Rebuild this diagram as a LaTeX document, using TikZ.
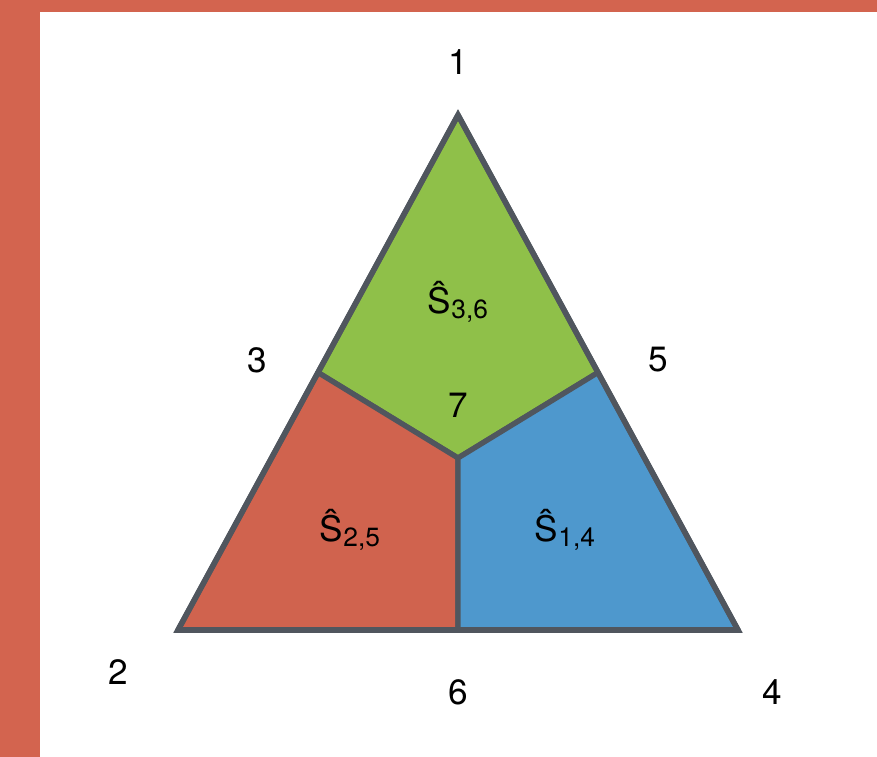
\documentclass[tikz,border=0pt]{standalone}
\usepackage{fontspec}
\setmainfont{TeX Gyre Heros}
\usetikzlibrary{calc}
\definecolor{frame}{HTML}{D3644F}
\definecolor{edgegray}{HTML}{50565E}
\definecolor{zonegreen}{HTML}{8FC049}
\definecolor{zonered}{HTML}{D0634E}
\definecolor{zoneblue}{HTML}{4E98CD}
\newcommand{\Shat}[1]{\^{S}{\fontsize{15}{15}\selectfont\raisebox{-0.35ex}{#1}}}

\begin{document}
\begin{tikzpicture}[
    x=0.02cm, y=-0.02cm,
    font=\fontsize{20}{24}\selectfont,
    zone/.style={draw=edgegray, line width=3pt, line join=round},
    rim/.style={draw=edgegray, line width=3.2pt, line join=miter},
    vlabel/.style={inner sep=0pt},
    zlabel/.style={inner sep=0pt},
  ]
\useasboundingbox (0,0) rectangle (877,757);

% --- Frame: the band on the top and the left ---------------------------------
\fill[frame] (0,0) rectangle (877,12);
\fill[frame] (0,0) rectangle (40,757);

% --- Points of the triangle ---------------------------------------------------
\coordinate (p1) at (458,115);
\coordinate (p2) at (178,630);
\coordinate (p4) at (738,630);
\coordinate (p3) at ($(p1)!0.5!(p2)$);
\coordinate (p5) at ($(p1)!0.5!(p4)$);
\coordinate (p6) at ($(p2)!0.5!(p4)$);
\coordinate (p7) at (458,458);

% --- The three zones ----------------------------------------------------------
\filldraw[zone, fill=zonegreen] (p1) -- (p5) -- (p7) -- (p3) -- cycle;
\filldraw[zone, fill=zonered] (p3) -- (p7) -- (p6) -- (p2) -- cycle;
\filldraw[zone, fill=zoneblue] (p7) -- (p5) -- (p4) -- (p6) -- cycle;
\draw[rim] (p1) -- (p2) -- (p4) -- cycle;

% --- Labels -------------------------------------------------------------------
\foreach \n/\x/\y in {1/458/62, 2/118/672, 3/257/360, 4/772/692, 5/658/360, 6/458/692, 7/458/405}
  \node[vlabel] (l\n) at (\x,\y) {\n};

\node[zlabel] (s36) at (458,302) {\Shat{3,6}};
\node[zlabel] (s25) at (350,530) {\Shat{2,5}};
\node[zlabel] (s14) at (565,530) {\Shat{1,4}};

\end{tikzpicture}
\end{document}
